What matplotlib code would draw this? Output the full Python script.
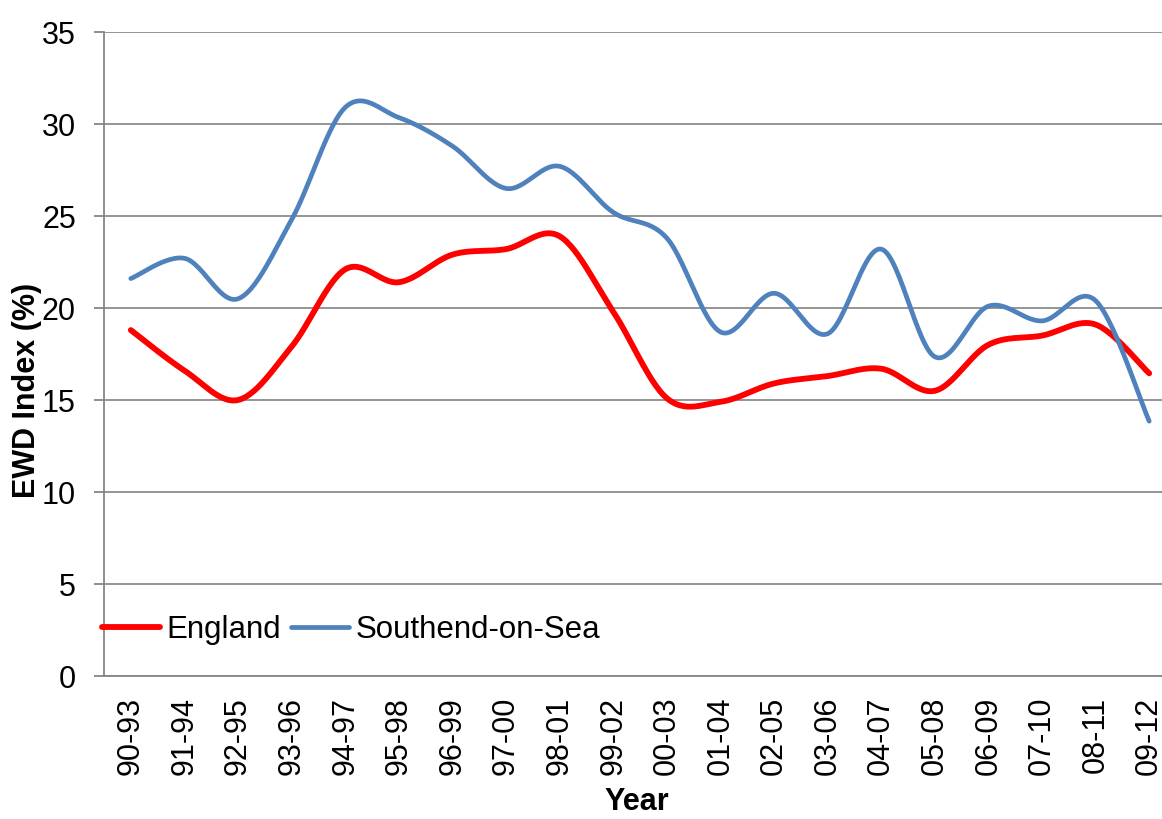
import numpy as np
import matplotlib
matplotlib.use("Agg")
import matplotlib.pyplot as plt

years = ["90-93", "91-94", "92-95", "93-96", "94-97", "95-98", "96-99", "97-00",
         "98-01", "99-02", "00-03", "01-04", "02-05", "03-06", "04-07", "05-08",
         "06-09", "07-10", "08-11", "09-12"]
england = [18.8, 16.6, 15.0, 17.9, 22.1, 21.4, 22.9, 23.2, 23.9, 19.8, 15.1,
           14.9, 15.9, 16.3, 16.7, 15.5, 18.0, 18.5, 19.1, 16.45]
southend = [21.6, 22.7, 20.5, 24.8, 30.9, 30.35, 28.8, 26.5, 27.7, 25.2, 23.8,
            18.7, 20.8, 18.6, 23.2, 17.35, 20.1, 19.3, 20.4, 13.85]

plt.rcParams['font.family'] = ['Liberation Sans', 'DejaVu Sans']


def smooth(xs, ys, n=30):
    # Excel-style smoothed line (Bezier through points)
    xs = np.asarray(xs, float)
    ys = np.asarray(ys, float)
    px = np.concatenate([[xs[0]], xs, [xs[-1]]])
    py = np.concatenate([[ys[0]], ys, [ys[-1]]])
    ox, oy = [], []
    t = np.linspace(0, 1, n)
    for i in range(1, len(px) - 2):
        p0x, p1x, p2x, p3x = px[i - 1], px[i], px[i + 1], px[i + 2]
        p0y, p1y, p2y, p3y = py[i - 1], py[i], py[i + 1], py[i + 2]
        c1x = p1x + (p2x - p0x) / 6
        c1y = p1y + (p2y - p0y) / 6
        c2x = p2x - (p3x - p1x) / 6
        c2y = p2y - (p3y - p1y) / 6
        bx = (1 - t) ** 3 * p1x + 3 * (1 - t) ** 2 * t * c1x + 3 * (1 - t) * t ** 2 * c2x + t ** 3 * p2x
        by = (1 - t) ** 3 * p1y + 3 * (1 - t) ** 2 * t * c1y + 3 * (1 - t) * t ** 2 * c2y + t ** 3 * p2y
        ox.extend(bx if i == 1 else bx[1:])
        oy.extend(by if i == 1 else by[1:])
    return np.array(ox), np.array(oy)


fig = plt.figure(figsize=(11.62, 8.19), dpi=100)
W, H = 1162, 819
left, right, top, bottom = 104, 1176, 32, 676
ax = fig.add_axes([left / W, 1 - bottom / H, (right - left) / W, (bottom - top) / H])

x = np.arange(len(years))
ex, ey = smooth(x, england)
sx, sy = smooth(x, southend)
ax.plot(ex, ey, color='#FF0000', lw=4.2, solid_capstyle='round', label='England', zorder=3)
ax.plot(sx, sy, color='#4F81BD', lw=3.4, solid_capstyle='round', label='Southend-on-Sea', zorder=3)

ax.set_xlim(-0.5, len(years) - 0.5)
ax.set_ylim(0, 35)
ax.set_yticks(np.arange(0, 36, 5))
ax.set_xticks(x)
ax.set_xticklabels(years, rotation=90, fontsize=22)
ax.tick_params(axis='y', labelsize=22, length=7.2, width=1.3, color='#868686', pad=13)
ax.tick_params(axis='x', length=0, pad=15)

ax.grid(axis='y', color='#8c8c8c', lw=1.3, zorder=0)
ax.set_axisbelow(True)
for s in ['top', 'right']:
    ax.spines[s].set_visible(False)
for s in ['left', 'bottom']:
    ax.spines[s].set_color('#868686')
    ax.spines[s].set_linewidth(1.3)

ax.set_ylabel('EWD Index (%)', fontsize=22, fontweight='bold')
ax.yaxis.set_label_coords(-0.058, 0.444)
ax.set_xlabel('Year', fontsize=22, fontweight='bold', va='top')
ax.xaxis.set_label_coords(0.497, -0.172)

leg = ax.legend(loc='center left', bbox_to_anchor=(-0.002, 0.072), ncol=2, frameon=False,
                fontsize=22.5, handlelength=1.85, handletextpad=0.2, columnspacing=0.35,
                borderaxespad=0, borderpad=0)

fig.savefig('out.png', dpi=100)
